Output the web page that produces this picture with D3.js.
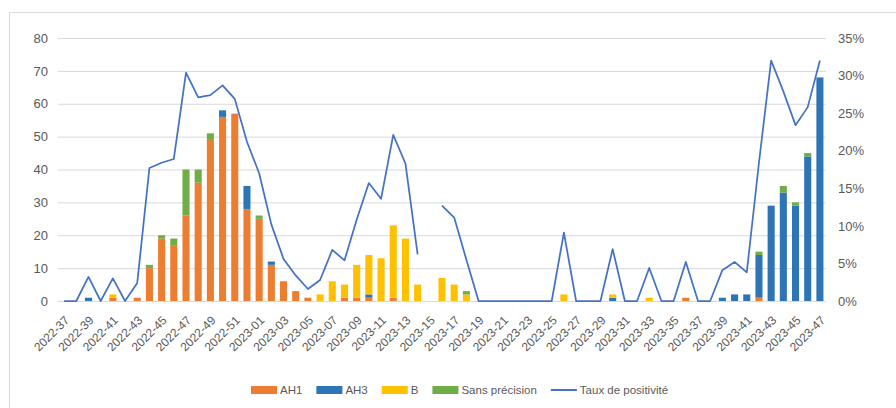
<!DOCTYPE html>
<html>
<head>
<meta charset="utf-8">
<script src="https://cdn.jsdelivr.net/npm/d3@7"></script>
<style>
  body { margin: 0; background: #fff; }
  text { font-family: "Liberation Sans", Arial, sans-serif; fill: #595959; }
</style>
</head>
<body>
<div id="chart"></div>
<script>
var svgWidth = 896;
var svgHeight = 408;

// weekly categories
var weeks = ["2022-37","2022-38","2022-39","2022-40","2022-41","2022-42","2022-43","2022-44","2022-45","2022-46",
  "2022-47","2022-48","2022-49","2022-50","2022-51","2022-52","2023-01","2023-02","2023-03","2023-04",
  "2023-05","2023-06","2023-07","2023-08","2023-09","2023-10","2023-11","2023-12","2023-13","2023-14",
  "2023-15","2023-16","2023-17","2023-18","2023-19","2023-20","2023-21","2023-22","2023-23","2023-24",
  "2023-25","2023-26","2023-27","2023-28","2023-29","2023-30","2023-31","2023-32","2023-33","2023-34",
  "2023-35","2023-36","2023-37","2023-38","2023-39","2023-40","2023-41","2023-42","2023-43","2023-44",
  "2023-45","2023-46","2023-47"];

var ah1 = [0,0,0,0,1,0,1,10,19,17, 26,36,49,56,57,28,25,11,6,3, 1,0,0,1,1,1,0,1,0,0,
  0,0,0,0,0,0,0,0,0,0, 0,0,0,0,0,0,0,0,0,0, 0,1,0,0,0,0,0,1,0,0, 0,0,0];
var ah3 = [0,0,1,0,0,0,0,0,0,0, 0,0,0,2,0,7,0,1,0,0, 0,0,0,0,0,1,0,0,0,0,
  0,0,0,0,0,0,0,0,0,0, 0,0,0,0,0,1,0,0,0,0, 0,0,0,0,1,2,2,13,29,33, 29,44,68];
var fluB = [0,0,0,0,1,0,0,0,0,0, 0,0,0,0,0,0,0,0,0,0, 0,2,6,4,10,12,13,22,19,5,
  0,7,5,2,0,0,0,0,0,0, 0,2,0,0,0,1,0,0,1,0, 0,0,0,0,0,0,0,0,0,0, 0,0,0];
var sansPrecision = [0,0,0,0,0,0,0,1,1,2, 14,4,2,0,0,0,1,0,0,0, 0,0,0,0,0,0,0,0,0,0,
  0,0,0,1,0,0,0,0,0,0, 0,0,0,0,0,0,0,0,0,0, 0,0,0,0,0,0,0,1,0,2, 1,1,0];
// taux de positivité (%)
var taux = [0,0,3.2,0,3.0,0,2.4,17.7,18.4,18.9, 30.4,27.1,27.4,28.7,26.9,21.2,17.0,10.2,5.6,3.4,
  1.6,2.8,6.8,5.4,10.8,15.7,13.6,22.1,18.3,6.2, null,12.7,11.1,5.5,0,0,0,0,0,0,
  0,9.1,0,0,0,6.9,0,0,4.4,0, 0,5.2,0,0,4.1,5.2,3.8,18.4,32.0,27.9, 23.4,25.8,32.0];

var leftTicks = [0,10,20,30,40,50,60,70,80];
var rightTicks = [0,5,10,15,20,25,30,35];

var seriesKeys = ["AH1","AH3","B","Sans précision"];
var colors = {"AH1":"#ED7D31","AH3":"#2E75B6","B":"#FFC000","Sans précision":"#70AD47"};
var lineColor = "#4472C4";

var data = weeks.map(function(w, i) {
  return {week: w, "AH1": ah1[i], "AH3": ah3[i], "B": fluB[i], "Sans précision": sansPrecision[i], taux: taux[i]};
});

var margin = {top: 38, right: 70, bottom: 107, left: 58};
var width = svgWidth - margin.left - margin.right;
var height = svgHeight - margin.top - margin.bottom;

var svg = d3.select("#chart").append("svg")
  .attr("width", svgWidth)
  .attr("height", svgHeight);

// chart frame (cropped on right/bottom)
svg.append("rect")
  .attr("x", 9.5).attr("y", 12.5)
  .attr("width", 900).attr("height", 420)
  .attr("fill", "#fff").attr("stroke", "#d9d9d9");

var chartGroup = svg.append("g")
  .attr("transform", `translate(${margin.left}, ${margin.top})`);

var x = d3.scaleBand().domain(weeks).range([0, width]).paddingInner(0.42).paddingOuter(0.21);
var yLeft = d3.scaleLinear().domain([0, 80]).range([height, 0]);
var yRight = d3.scaleLinear().domain([0, 35]).range([height, 0]);

// gridlines + left axis
var leftAxis = chartGroup.append("g")
  .call(d3.axisLeft(yLeft).tickValues(leftTicks).tickSize(-width).tickPadding(10));
leftAxis.select(".domain").remove();
leftAxis.selectAll("line").attr("stroke", "#d9d9d9").attr("stroke-width", 1);
leftAxis.selectAll("text").style("font-size", "13px").attr("fill", "#595959");

var rightAxis = chartGroup.append("g")
  .attr("transform", `translate(${width}, 0)`)
  .call(d3.axisRight(yRight).tickValues(rightTicks).tickSize(0).tickPadding(12).tickFormat(d => d + "%"));
rightAxis.select(".domain").remove();
rightAxis.selectAll("text").style("font-size", "13px").attr("fill", "#595959");

// bars
var stacked = d3.stack().keys(seriesKeys)(data);
chartGroup.selectAll(".serie")
  .data(stacked)
  .enter().append("g")
  .attr("fill", d => colors[d.key])
  .selectAll("rect")
  .data(d => d)
  .enter().append("rect")
  .attr("x", d => x(d.data.week))
  .attr("width", x.bandwidth())
  .attr("y", d => yLeft(d[1]))
  .attr("height", d => yLeft(d[0]) - yLeft(d[1]));

// bottom axis
var bottomAxis = chartGroup.append("g")
  .attr("transform", `translate(0, ${height})`)
  .call(d3.axisBottom(x).tickValues(weeks.filter((w, i) => i % 2 === 0)).tickSize(0));
bottomAxis.select(".domain").remove();
bottomAxis.selectAll("text")
  .style("font-size", "12px")
  .attr("fill", "#595959")
  .attr("text-anchor", "end")
  .attr("x", 0).attr("y", 0).attr("dy", "0.35em")
  .attr("transform", "translate(3, 17) rotate(-45)");

// positivity line
var line = d3.line()
  .defined(d => d.taux !== null)
  .x(d => x(d.week) + x.bandwidth() / 2)
  .y(d => yRight(d.taux));
chartGroup.append("path")
  .datum(data)
  .attr("fill", "none")
  .attr("stroke", lineColor)
  .attr("stroke-width", 1.75)
  .attr("stroke-linejoin", "round")
  .attr("d", line);

// legend
var legendItems = seriesKeys.map(k => ({name: k, color: colors[k], type: "rect"}))
  .concat([{name: "Taux de positivité", color: lineColor, type: "line"}]);
var legend = svg.append("g").attr("transform", "translate(251, 390)");
var lx = 0;
legendItems.forEach(function(item) {
  var g = legend.append("g").attr("transform", `translate(${lx}, 0)`);
  if (item.type === "rect") {
    g.append("rect").attr("x", 0).attr("y", -4).attr("width", 26).attr("height", 8).attr("fill", item.color);
  } else {
    g.append("line").attr("x1", 0).attr("x2", 26).attr("y1", 0).attr("y2", 0)
      .attr("stroke", item.color).attr("stroke-width", 2);
  }
  var t = g.append("text").attr("x", 29).attr("y", 0).attr("dy", "0.35em")
    .style("font-size", "11.5px").text(item.name);
  lx += 29 + t.node().getComputedTextLength() + 14;
});
</script>
</body>
</html>
